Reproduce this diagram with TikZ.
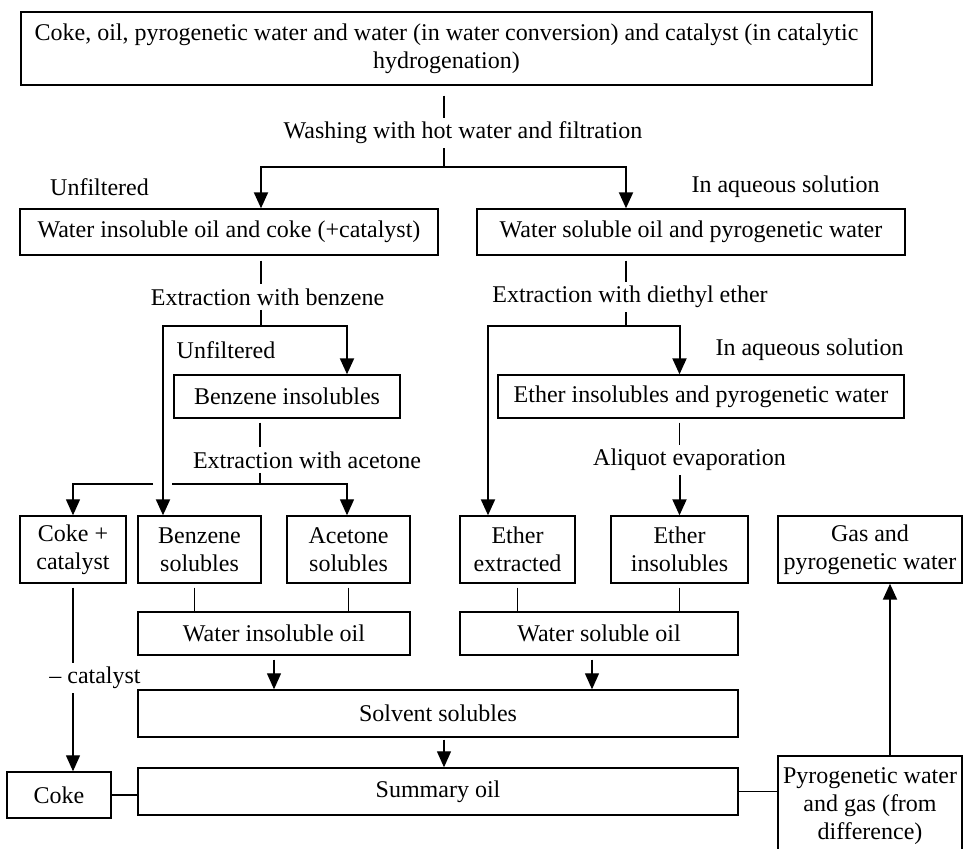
\documentclass[tikz,border=0pt]{standalone}
\usepackage{fontspec}
\setmainfont{Liberation Serif}
\usetikzlibrary{arrows.meta}
\begin{document}
\begin{tikzpicture}[x=0.5pt,y=-0.5pt,
    box/.style={draw,line width=0.7pt,inner sep=0pt,align=center,font=\fontsize{12}{14}\selectfont},
    lbl/.style={inner sep=2pt,font=\fontsize{12}{14}\selectfont},
    con/.style={line width=0.6pt},
    arr/.style={line width=0.6pt,-{Triangle[length=8pt,width=7pt]}},
    thk/.style={line width=1pt}]
        \useasboundingbox (0,0) rectangle (964,848);
        %boxes
        \node[box,minimum width=425.5pt,minimum height=36.5pt] (top) at (446.5,48.5) {Coke, oil, pyrogenetic water and water (in water conversion) and catalyst (in catalytic\\hydrogenation)};
        \node[box,minimum width=209pt,minimum height=23pt] (wioc) at (229,232) {Water insoluble oil and coke (+catalyst)};
        \node[box,minimum width=214pt,minimum height=23pt] (wspw) at (691,232) {Water soluble oil and pyrogenetic water};
        \node[box,minimum width=113pt,minimum height=21.5pt] (bins) at (287,396.5) {Benzene insolubles};
        \node[box,minimum width=203pt,minimum height=21.5pt] (eipw) at (701,396.5) {Ether insolubles and pyrogenetic water};
        \node[box,minimum width=53pt,minimum height=33.5pt] (cc) at (73,549.5) {Coke +\\catalyst};
        \node[box,minimum width=61.5pt,minimum height=33.5pt] (bs) at (199.5,549.5) {Benzene\\solubles};
        \node[box,minimum width=61.5pt,minimum height=33.5pt] (as) at (348.5,549.5) {Acetone\\solubles};
        \node[box,minimum width=57.5pt,minimum height=33.5pt] (ee) at (517.5,549.5) {Ether\\extracted};
        \node[box,minimum width=68.5pt,minimum height=33.5pt] (ei) at (679.5,549.5) {Ether\\insolubles};
        \node[box,minimum width=92pt,minimum height=33.5pt] (gpw) at (870,549.5) {Gas and\\pyrogenetic water};
        \node[box,minimum width=136pt,minimum height=21.5pt] (wio) at (274,633.5) {Water insoluble oil};
        \node[box,minimum width=139pt,minimum height=21.5pt] (wso) at (599,633.5) {Water soluble oil};
        \node[box,minimum width=300pt,minimum height=23.5pt] (ss) at (438,713.5) {Solvent solubles};
        \node[box,minimum width=300pt,minimum height=23.5pt] (so) at (438,791.5) {Summary oil};
        \node[box,minimum width=52pt,minimum height=23pt] (coke) at (59,795) {Coke};
        \node[box,minimum width=92pt,minimum height=50pt] (pwg) at (870,806) {Pyrogenetic water\\and gas (from\\difference)};
        
        %labels
        \node[lbl] (wash) at (463,133) {Washing with hot water and filtration};
        \node[lbl] (unf1) at (99.5,187) {Unfiltered};
        \node[lbl] (aq1) at (785.5,187) {In aqueous solution};
        \node[lbl] (exb) at (267.5,297) {Extraction with benzene};
        \node[lbl] (exd) at (630,297) {Extraction with diethyl ether};
        \node[lbl] (unf2) at (226,350) {Unfiltered};
        \node[lbl] (aq2) at (809.5,350) {In aqueous solution};
        \node[lbl] (exa) at (307,460) {Extraction with acetone};
        \node[lbl] (alq) at (689.5,460) {Aliquot evaporation};
        \node[lbl] (cat) at (95,678) {\textendash\ catalyst};
        
        %junctions
        \coordinate (s0) at (444,167);
        \coordinate (s1) at (261,326);
        \coordinate (s2) at (626,326);
        \coordinate (s3) at (260,484);
        \coordinate (lb) at (163,326);
        \coordinate (le) at (488,326);
        \coordinate (ac) at (347,484);
        \coordinate (g1) at (172,484);
        \coordinate (g2) at (153,484);
        
        %washing
        \draw[con] ([yshift=-5pt]top.south -| s0) -- (wash.north -| s0);
        \draw[arr,thk] (wash.south -| s0) -- (s0) -| (wioc.north -| s1);
        \draw[arr,thk] (s0) -| (wspw.north -| s2);
        
        %benzene
        \draw[con] ([yshift=-2.5pt]wioc.south -| s1) -- (exb.north -| s1);
        \draw[con] (exb.south -| s1) -- (s1);
        \draw[arr,thk] (s1) -| (bins.north -| ac);
        \draw[arr,thk] (s1) -- (lb) -- (bs.north -| lb);
        
        %acetone
        \draw[con] ([yshift=-2pt]bins.south -| s3) -- (exa.north -| s3);
        \draw[con] (exa.south -| s3) -- (s3);
        \draw[arr] (s3) -| (as.north -| ac);
        \draw[con] (s3) -- (g1);
        \draw[arr] (g2) -| (cc.north);
        
        %ether
        \draw[con] ([yshift=-2.5pt]wspw.south -| s2) -- (exd.north -| s2);
        \draw[con] (exd.south -| s2) -- (s2);
        \draw[arr,thk] (s2) -| (eipw.north -| ei.north);
        \draw[arr,thk] (s2) -- (le) -- (ee.north -| le);
        
        %aliquot
        \draw[con] ([yshift=-2pt]eipw.south -| ei.north) -- (alq.north -| ei.north);
        \draw[arr,thk] (alq.south -| ei.north) -- (ei.north);
        
        %oils
        \draw[con] ([xshift=-2.5pt,yshift=-2pt]bs.south) -- ([xshift=-2.5pt]bs.south |- wio.north);
        \draw[con] ([yshift=-2pt]as.south) -- (as.south |- wio.north);
        \draw[con] ([yshift=-2pt]ee.south) -- (ee.south |- wso.north);
        \draw[con] ([yshift=-2pt]ei.south) -- (ei.south |- wso.north);
        \draw[arr] ([yshift=-2pt]wio.south) -- (wio.south |- ss.north);
        \draw[arr] ([xshift=-3.5pt,yshift=-2pt]wso.south) -- ([xshift=-3.5pt]wso.south |- ss.north);
        \draw[arr] ([xshift=3pt,yshift=-1pt]ss.south) -- ([xshift=3pt]so.north);
        
        %coke and gas
        \draw[con] ([yshift=-2pt]cc.south) -- (cat.north -| cc.south);
        \draw[arr] (cat.south -| cc.south) -- (coke.north -| cc.south);
        \draw[con] (coke.east) -- (coke.east -| so.west);
        \draw[con] (so.east) -- (so.east -| pwg.west);
        \draw[arr,thk] ([xshift=10pt]pwg.north) -- ([xshift=10pt]gpw.south);
    \end{tikzpicture}
\end{document}
